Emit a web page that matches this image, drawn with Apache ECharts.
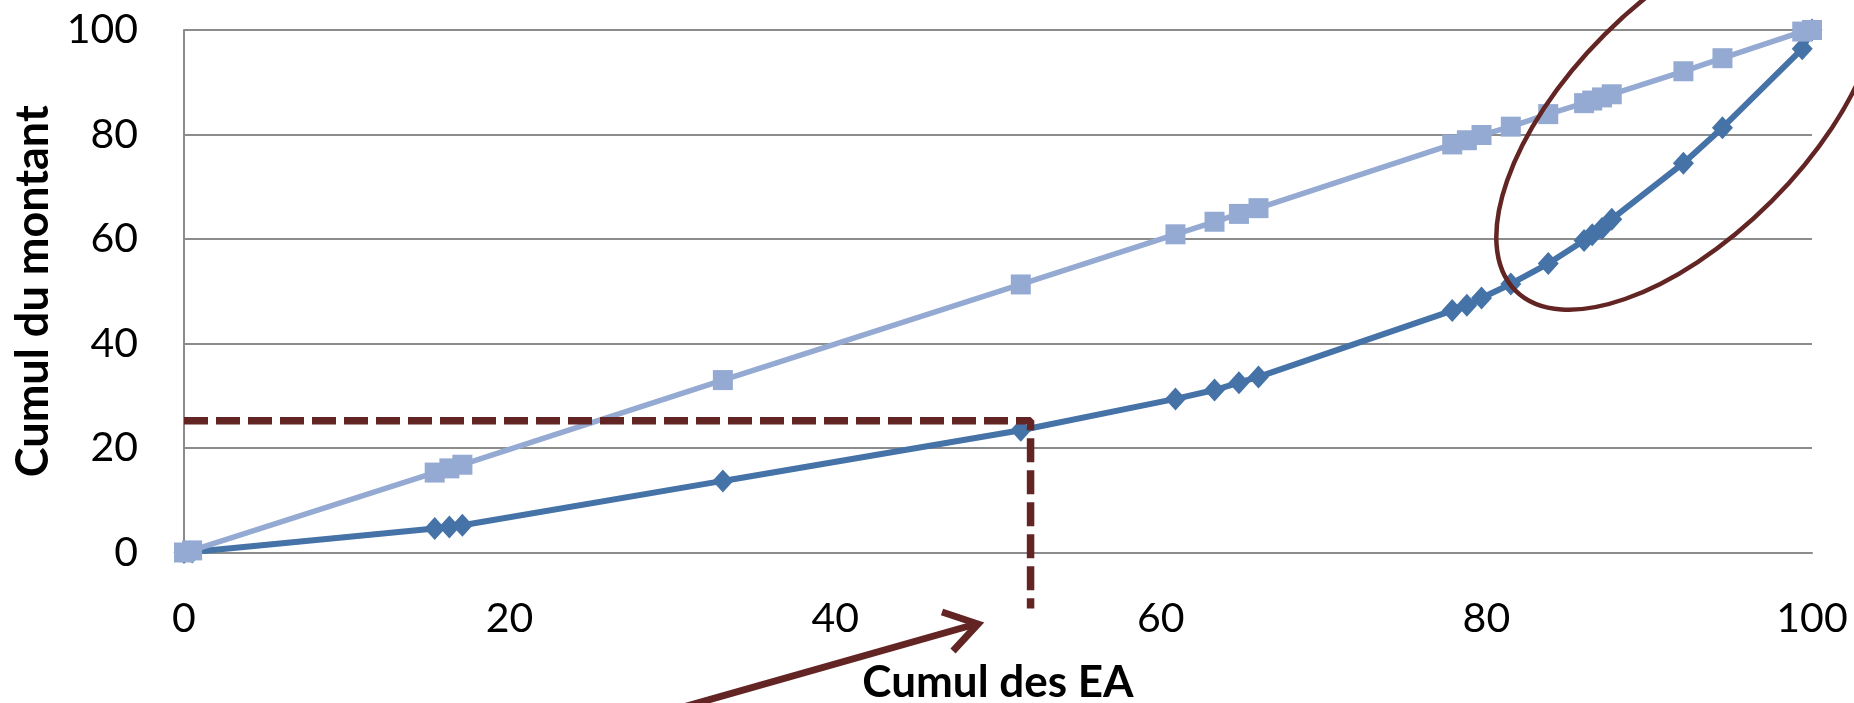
<!DOCTYPE html>
<html>
<head>
<meta charset="utf-8">
<script src="https://cdn.jsdelivr.net/npm/echarts@6/dist/echarts.min.js"></script>
<style>
html,body{margin:0;padding:0;background:#fff;}
#chart{width:1854px;height:703px;}
</style>
</head>
<body>
<div id="chart"></div>
<script>
// Cumulative share of EA (x, %)
const cumulEA = [0, 0.5, 15.4, 16.3, 17.1, 33.1, 51.4, 60.9, 63.3, 64.8, 66.0, 77.9, 78.8, 79.7, 81.5, 83.8, 86.0, 86.5, 87.1, 87.7, 92.1, 94.5, 99.4, 100];
// Equality line (light squares)
const egalite = [0, 0.4, 15.3, 16.1, 16.8, 33.0, 51.3, 60.9, 63.3, 64.8, 65.9, 78.1, 78.9, 79.9, 81.5, 83.9, 86.0, 86.5, 87.1, 87.7, 92.1, 94.6, 99.7, 100];
// Cumulative share of amount (dark diamonds)
const cumulMontant = [0, 0.1, 4.6, 4.9, 5.2, 13.7, 23.4, 29.4, 31.1, 32.5, 33.6, 46.3, 47.3, 48.7, 51.4, 55.3, 59.7, 60.8, 62.0, 63.8, 74.5, 81.3, 96.4, 100];
// Reference (dashed) guide
const repereX = [0, 52, 52];
const repereY = [25.2, 25.2, -10.7];
// Tick labels
const tickLabels = ['0', '20', '40', '60', '80', '100'];

const FONT = 'Lato, "Liberation Sans", sans-serif';
const RED = '#632523';

const chart = echarts.init(document.getElementById('chart'), null, {renderer: 'canvas'});

const pairs = (xs, ys) => xs.map((x, i) => [x, ys[i]]);

chart.setOption({
  animation: false,
  backgroundColor: '#ffffff',
  grid: {left: 184, right: 42, top: 30, bottom: 150.5, containLabel: false, outerBoundsMode: 'none'},
  xAxis: {
    type: 'value', min: 0, max: 100, interval: 20,
    name: 'Cumul des EA', nameLocation: 'middle', nameGap: 108,
    nameTextStyle: {fontFamily: FONT, fontWeight: 'bold', fontSize: 44, color: '#000'},
    axisLine: {show: true, lineStyle: {color: '#8c8c8c', width: 2}},
    axisTick: {show: false},
    splitLine: {show: false},
    axisLabel: {fontFamily: FONT, fontSize: 41, color: '#000', margin: 46,
      formatter: v => tickLabels[Math.round(v / 20)]}
  },
  yAxis: {
    type: 'value', min: 0, max: 100, interval: 20,
    name: 'Cumul du montant', nameLocation: 'middle', nameGap: 120, nameRotate: 90,
    nameTextStyle: {fontFamily: FONT, fontWeight: 'bold', fontSize: 45, color: '#000'},
    axisLine: {show: true, lineStyle: {color: '#8c8c8c', width: 2}},
    axisTick: {show: false},
    splitLine: {show: true, lineStyle: {color: '#8c8c8c', width: 2}},
    axisLabel: {fontFamily: FONT, fontSize: 41, color: '#000', margin: 46,
      formatter: v => tickLabels[Math.round(v / 20)]}
  },
  series: [
    {
      name: 'Cumul du montant', type: 'line', data: pairs(cumulEA, cumulMontant),
      symbol: 'diamond', symbolSize: [21, 23],
      lineStyle: {color: '#4572A7', width: 6},
      itemStyle: {color: '#4572A7'}, z: 2
    },
    {
      name: 'Égalité', type: 'line', data: pairs(cumulEA, egalite),
      symbol: 'rect', symbolSize: 20,
      lineStyle: {color: '#94AAD2', width: 5.5},
      itemStyle: {color: '#94AAD2'}, z: 3
    },
    {
      name: 'Repère', type: 'line', data: pairs(repereX, repereY),
      symbol: 'none', clip: false, silent: true,
      lineStyle: {color: RED, width: 7.5, type: [24, 8], cap: 'butt'},
      z: 4
    }
  ],
  graphic: [
    {
      type: 'ellipse', x: 1688, y: 118, rotation: Math.PI / 4,
      shape: {cx: 0, cy: 0, rx: 244, ry: 118},
      style: {fill: 'none', stroke: RED, lineWidth: 4.5}, z: 10
    },
    {
      type: 'line', shape: {x1: 620, y1: 725, x2: 976, y2: 624},
      style: {stroke: RED, lineWidth: 7}, z: 10
    },
    {
      type: 'polyline', shape: {points: [[942, 612], [978, 624], [953, 651]]},
      style: {stroke: RED, lineWidth: 7, fill: 'none', lineJoin: 'miter'}, z: 10
    }
  ]
});
</script>
</body>
</html>
